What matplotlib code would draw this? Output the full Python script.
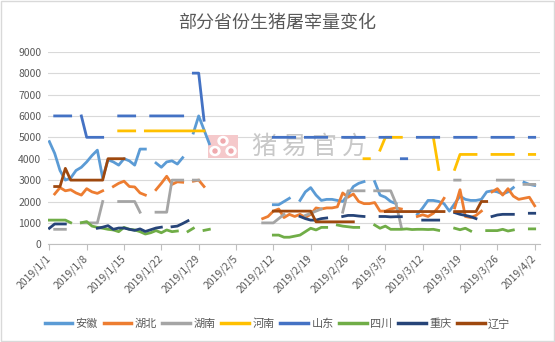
import numpy as np
import pandas as pd
import matplotlib
matplotlib.use('Agg')
import matplotlib.pyplot as plt
from matplotlib.patches import Rectangle, Ellipse

plt.rcParams['font.family'] = ['Noto Sans CJK SC', 'DejaVu Sans']

n = np.nan
dates = pd.date_range('2019-01-01', '2019-04-02', freq='D')

# one row per week, first row starts 2019/1/1
anhui = [
    4800, 4250, 3450, 3000, 3100, 3450, 3600,
    3850, 4150, 4400, 3100, 3950, 3850, 3700,
    4000, 3900, 3700, 4450, 4450, n, 3800,
    3600, 3850, 3900, 3750, 4050, n, 5200,
    6000, 5350, 4700, n, n, n, n,
    n, n, n, n, n, n, n,
    1850, 1850, 2000, 2150, n, 2050, 2450,
    2650, 2300, 2050, 2100, 2100, 2050, 2000,
    2300, 2700, 2850, 2930, n, 2930, 2300,
    2200, 2000, 1900, n, n, n, 1400,
    1700, 2050, 2050, 2000, 1900, 1550, 1900,
    2250, 2100, 2050, 2050, 2100, 2450, 2500,
    2450, 2350, 2450, 2650, n, 2900, 2800,
    2750]

hubei = [
    n, 2350, 2650, 2500, 2550, 2400, 2300,
    2600, 2450, 2380, 2500, n, 2700, 2850,
    2950, 2700, 2680, 2400, 2300, n, 2550,
    2850, 3180, 2800, 2920, 2900, n, 2950,
    3000, 2700, n, n, n, n, n,
    n, n, n, n, n, 1200, 1300,
    1550, 1650, 1250, 1400, 1300, 1400, 1250,
    1400, 1700, 1650, 1700, 1700, 1750, 2400,
    2200, 2350, 2000, 1900, 1900, 1950, 1550,
    1550, 1650, 1700, 1650, n, n, 1300,
    1380, 1300, 1450, 1750, 2150, n, 1700,
    2550, 1300, 1250, 1350, 1550, n, 2450,
    2600, 2300, 2600, 2250, 2100, 2150, 2200,
    1800]

hunan = [
    n, 700, 700, 700, n, n, 1000,
    1000, 1000, 1000, 2000, n, n, 2000,
    2000, 2000, 2000, 1500, n, n, 1500,
    1500, 1500, 3000, 3000, 3000, n, 3000,
    3000, n, n, n, n, n, n,
    n, n, n, n, n, 1000, 1000,
    1000, 1200, 1400, n, n, n, 1350,
    1450, 1550, 1650, n, n, n, 1500,
    2500, 2500, 2500, 2500, n, 2500, 2500,
    2500, 2500, 1900, 800, n, n, n,
    n, n, n, n, n, n, 3000,
    3000, n, n, n, n, n, n,
    3000, 3000, 3000, 3000, n, 2800, 2800,
    2800]

henan = [
    n, n, n, n, n, n, n,
    n, n, n, n, n, n, 5300,
    5300, 5300, 5300, n, 5300, 5300, 5300,
    5300, 5300, 5300, 5300, 5300, 5300, 5300,
    5300, 5300, n, n, n, n, n,
    n, n, n, n, n, n, n,
    n, n, n, n, n, n, n,
    n, n, n, n, n, n, n,
    n, n, n, 4000, 4000, n, 4400,
    5000, 5000, 5000, 5000, n, n, n,
    n, n, 5000, 3500, n, n, 3500,
    4200, 4200, 4200, 4200, n, n, 4200,
    4200, 4200, 4200, 4200, n, n, 4200,
    4200]

shandong = [
    n, 6000, 6000, 6000, 6000, n, 6000,
    5000, 5000, 5000, 5000, n, n, 6000,
    6000, 6000, 6000, n, n, 6000, 6000,
    6000, 6000, 6000, 6000, 6000, n, 8000,
    8000, 5800, n, n, n, n, n,
    n, n, n, n, n, n, n,
    5000, 5000, 5000, 5000, 5000, n, 5000,
    5000, 5000, 5000, 5000, n, n, 5000,
    5000, 5000, 5000, 5000, n, n, 5000,
    5000, 5000, n, 4000, 4000, n, 5000,
    5000, 5000, 5000, 5000, n, n, 5000,
    5000, 5000, 5000, 5000, n, n, 5000,
    5000, 5000, 5000, 5000, n, n, 5000,
    5000]

sichuan = [
    1130, 1130, 1130, 1130, 1010, n, 1010,
    1060, 850, 790, 750, 700, 670, 590,
    790, 700, 670, 590, 480, 540, 640,
    540, 670, 590, 620, n, 600, 750,
    n, 650, 700, n, n, n, n,
    n, n, n, n, n, n, n,
    430, 430, 330, 330, 380, 430, 590,
    750, 670, 790, 790, n, 900, 850,
    820, 790, 790, n, n, 900, 750,
    850, 700, 700, 700, 720, 690, 700,
    700, 690, 700, 650, n, n, 750,
    680, 750, 620, n, n, 640, 640,
    640, 700, 620, 670, n, n, 720,
    720]

chongqing = [
    750, 950, 950, 950, n, n, n,
    n, n, 750, 800, 870, 700, 760,
    760, 700, 650, 720, 600, 680, 760,
    800, n, 820, 850, 970, 1100, n,
    n, n, n, n, n, n, n,
    n, n, n, n, n, n, n,
    n, n, n, n, n, 1300, 1200,
    1130, 1130, 1200, 1230, n, n, 1300,
    1350, 1350, 1320, 1300, n, n, 1300,
    1300, 1280, 1290, 1290, n, n, n,
    1130, 1130, 1130, 1130, n, n, 1480,
    1400, 1350, 1290, 1200, n, n, 1300,
    1370, 1400, 1400, 1400, n, n, 1450,
    1450]

liaoning = [
    n, 2700, 2700, 3550, 3000, 3000, 3000,
    3000, 3000, 3000, 3000, 4000, 4000, 4000,
    4000, n, n, n, n, n, n,
    n, n, n, n, n, n, n,
    n, n, n, n, n, n, n,
    n, n, n, n, n, n, n,
    1550, 1550, 1550, 1550, 1550, 1550, 1550,
    1550, 1050, 1050, 1050, 1050, 1050, 1050,
    1050, 1050, n, n, n, n, n,
    1530, 1530, 1530, 1530, 1530, 1530, 1530,
    1530, 1530, 1530, 1530, 1530, n, 1530,
    1530, 1530, 1530, 1530, 2000, 2000, n,
    n, n, n, n, n, n, n,
    n]

names = ['安徽', '湖北', '湖南', '河南', '山东', '四川', '重庆', '辽宁']
series = [anhui, hubei, hunan, henan, shandong, sichuan, chongqing, liaoning]
colors = ['#5B9BD5', '#ED7D31', '#A5A5A5', '#FFC000',
          '#4472C4', '#70AD47', '#264478', '#9E480E']

W, H = 555, 342
def fx(p):
    return p / W
def fy(p):
    return 1 - p / H

fig = plt.figure(figsize=(W / 100, H / 100), dpi=100)
ax = fig.add_axes([0.087, 0.2857, 0.886, 0.563])
ax.patch.set_alpha(0)

x = np.arange(len(dates))
for name, vals, c in zip(names, series, colors):
    assert len(vals) == len(dates), name
    ax.plot(x, np.array(vals, dtype=float), color=c, lw=2.0, label=name, zorder=2)

ax.set_xlim(-0.2, 92.0)
ax.set_ylim(0, 9000)
ax.set_yticks(range(0, 9001, 1000))
ax.yaxis.grid(True, color='#D9D9D9', lw=0.8)
ax.set_axisbelow(True)

ticks = x[::7]
ax.set_xticks(ticks)
ax.set_xticklabels([f'{dates[i].year}/{dates[i].month}/{dates[i].day}' for i in ticks],
                   rotation=45, ha='right', va='center', rotation_mode='anchor')
ax.tick_params(axis='x', length=4, width=0.8, color='#BFBFBF', pad=5,
               labelsize=7.5, labelcolor='#595959')
ax.tick_params(axis='y', length=0, pad=5, labelsize=7.5, labelcolor='#595959')
for s in ['top', 'right', 'left']:
    ax.spines[s].set_visible(False)
ax.spines['bottom'].set_color('#BFBFBF')
ax.spines['bottom'].set_linewidth(0.8)

# watermark
ax.add_patch(Rectangle((fx(208), fy(158)), fx(30), 23 / H, transform=fig.transFigure,
                       color='#F5C9CB', lw=0, zorder=1, clip_on=False))
for cx, cy in [(223, 141), (215, 151), (231, 151)]:
    ax.add_patch(Ellipse((fx(cx), fy(cy)), 10 / W, 9 / H, transform=fig.transFigure,
                         color='white', zorder=1, clip_on=False))
    ax.add_patch(Ellipse((fx(cx), fy(cy)), 4 / W, 4 / H, transform=fig.transFigure,
                         color='#EFA9AD', zorder=1, clip_on=False))
for i, ch in enumerate('猪易官方'):
    ax.text(fx(264 + 30 * i), fy(147), ch, transform=fig.transFigure, ha='center',
            va='center', fontsize=18, color='#C8C8C8', zorder=1)

fig.text(0.5, fy(23), '部分省份生猪屠宰量变化', ha='center', va='center',
         fontsize=13, color='#595959')

leg = fig.legend(loc='center', bbox_to_anchor=(0.5, fy(324)), ncol=8, frameon=False,
                 fontsize=8, handlelength=2.5, handletextpad=0.3, columnspacing=0.5,
                 borderaxespad=0)
for t in leg.get_texts():
    t.set_color('#595959')
for h in leg.get_lines():
    h.set_linewidth(2.5)

fig.add_artist(Rectangle((0.002, 0.003), 0.996, 0.994, transform=fig.transFigure,
                         fill=False, ec='#D9D9D9', lw=1))

fig.savefig('out.png', dpi=100)
